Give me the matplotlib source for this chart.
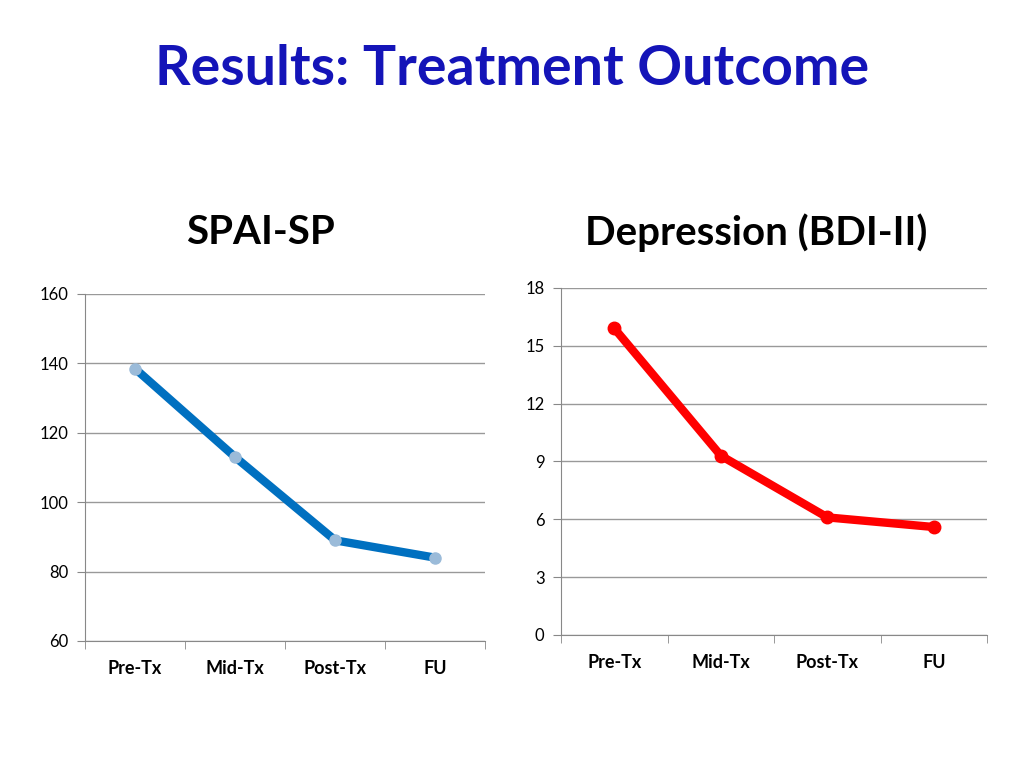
import matplotlib.pyplot as plt
import numpy as np

phases = ['Pre-Tx', 'Mid-Tx', 'Post-Tx', 'FU']
spai_sp = [138.5, 113, 89, 84]
bdi_ii = [15.9, 9.3, 6.1, 5.6]

plt.rcParams['font.family'] = ['Lato', 'DejaVu Sans']

fig = plt.figure(figsize=(10.24, 7.68), dpi=100)
fig.text(0.5, 0.91, 'Results: Treatment Outcome', ha='center', va='center',
         fontsize=40, fontweight='bold', color='#1414B8')


def style_axes(ax, ymin, ymax, ystep):
    x = np.arange(len(phases))
    ax.set_xlim(-0.5, len(phases) - 0.5)
    ax.set_ylim(ymin, ymax)
    ax.set_yticks(np.arange(ymin, ymax + 0.1, ystep))
    ax.set_xticks(x)
    ax.set_xticklabels(phases, fontsize=13, fontweight='bold')
    ax.set_xticks(np.arange(-0.5, len(phases)), minor=True)
    ax.tick_params(axis='x', which='major', length=0, pad=14)
    ax.tick_params(axis='x', which='minor', length=6, color='#888888')
    ax.tick_params(axis='y', length=6, color='#888888', labelsize=12, pad=6)
    ax.grid(axis='y', color='#999999', linewidth=1)
    ax.set_axisbelow(True)
    for s in ['top', 'right']:
        ax.spines[s].set_visible(False)
    for s in ['left', 'bottom']:
        ax.spines[s].set_color('#888888')


ax1 = fig.add_axes([0.083, 0.1654, 0.391, 0.4518])
ax1.plot(range(len(phases)), spai_sp, color='#0070C0', linewidth=6,
         marker='o', markersize=8, markerfacecolor='#9BBBD9',
         markeredgecolor='#9BBBD9', solid_capstyle='round')
style_axes(ax1, 60, 160, 20)
fig.text(0.254, 0.697, 'SPAI-SP', ha='center', va='center', fontsize=29, fontweight='bold')

ax2 = fig.add_axes([0.548, 0.1732, 0.416, 0.4518])
ax2.plot(range(len(phases)), bdi_ii, color='#FF0000', linewidth=6,
         marker='o', markersize=9, markerfacecolor='#FF0000',
         markeredgecolor='#FF0000', solid_capstyle='round')
style_axes(ax2, 0, 18, 3)
fig.text(0.738, 0.697, 'Depression (BDI-II)', ha='center', va='center', fontsize=29, fontweight='bold')

fig.savefig('out.png', dpi=100)
